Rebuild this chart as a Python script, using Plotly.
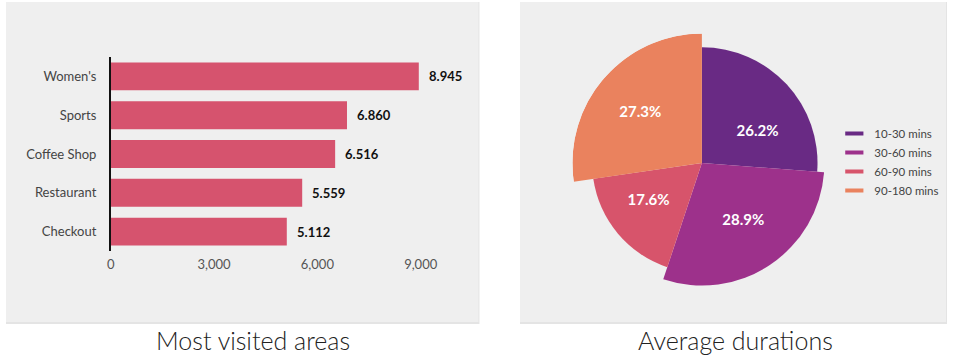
import plotly.graph_objects as go

# ---------------- data ----------------
areas = ["Women's", "Sports", "Coffee Shop", "Restaurant", "Checkout"]
visits = [8945, 6860, 6516, 5559, 5112]
x_ticks = [0, 3000, 6000, 9000]

durations = ["10-30 mins", "30-60 mins", "60-90 mins", "90-180 mins"]
duration_share = [26.2, 28.9, 17.6, 27.3]

# ---------------- style ----------------
W, H = 955, 364
BAR_COLOR = "#d6536e"
SLICE_COLORS = ["#692a84", "#9d318b", "#d7546b", "#ea825e"]
SLICE_RADII = [117, 124, 111, 131]        # decorative radii of the pie slices
LABEL_R_FRAC = [0.55, 0.58, 0.60, 0.61]    # label distance as fraction of slice radius
LABEL_NUDGE_DEG = [14, -2, 4, -2]          # label angular nudge from slice middle
FONT = "Lato"
PANEL = "#efefef"


def px_x(p):
    return p / W


def px_y(p):
    return 1 - p / H


fig = go.Figure()

# bar chart
fig.add_trace(go.Bar(
    x=visits, y=areas, orientation="h",
    marker=dict(color=BAR_COLOR, line=dict(width=0)),
    width=0.72, showlegend=False, hoverinfo="x+y",
    xaxis="x", yaxis="y",
))

for a, v in zip(areas, visits):
    fig.add_annotation(
        x=v, y=a, xref="x", yref="y", text=f"<b>{v/1000:.3f}</b>",
        showarrow=False, xanchor="left", xshift=8,
        font=dict(family=FONT, size=13, color="#111"),
    )

# pie (variable-radius sectors via barpolar)
thetas, widths, cum = [], [], 0.0
for s in duration_share:
    w = s * 3.6
    thetas.append(cum + w / 2)
    widths.append(w)
    cum += w

fig.add_trace(go.Barpolar(
    r=SLICE_RADII, theta=thetas, width=widths,
    marker=dict(color=SLICE_COLORS, line=dict(width=0)),
    showlegend=False, subplot="polar",
    hovertext=durations, hoverinfo="text",
))
fig.add_trace(go.Scatterpolar(
    r=[f * r for f, r in zip(LABEL_R_FRAC, SLICE_RADII)],
    theta=[t + d for t, d in zip(thetas, LABEL_NUDGE_DEG)], mode="text",
    text=[f"<b>{s:.1f}%</b>" for s in duration_share],
    textfont=dict(family=FONT, size=15, color="white"),
    showlegend=False, subplot="polar", hoverinfo="skip",
))
for name, c in zip(durations, SLICE_COLORS):
    fig.add_trace(go.Scatterpolar(
        r=[None], theta=[None], mode="markers", name=name,
        marker=dict(symbol="line-ew-open", size=13, color=c, line=dict(width=4, color=c)),
        subplot="polar", showlegend=True,
    ))

# panels
shapes = [
    dict(type="rect", xref="paper", yref="paper", x0=px_x(2), x1=px_x(481), y0=px_y(324), y1=px_y(2),
         fillcolor="#e4e4e4", line=dict(width=0), layer="below"),
    dict(type="rect", xref="paper", yref="paper", x0=px_x(2), x1=px_x(480), y0=px_y(322), y1=px_y(2),
         fillcolor=PANEL, line=dict(width=0), layer="below"),
    dict(type="rect", xref="paper", yref="paper", x0=px_x(522), x1=px_x(954), y0=px_y(324), y1=px_y(2),
         fillcolor="#e4e4e4", line=dict(width=0), layer="below"),
    dict(type="rect", xref="paper", yref="paper", x0=px_x(522), x1=px_x(953), y0=px_y(322), y1=px_y(2),
         fillcolor=PANEL, line=dict(width=0), layer="below"),
]

annotations = list(fig.layout.annotations) + [
    dict(x=px_x(252), y=px_y(340), xref="paper", yref="paper", text="Most visited areas",
         xanchor="center", yanchor="middle",
         showarrow=False, font=dict(family=FONT, size=25, color="#222", weight=300)),
    dict(x=px_x(740), y=px_y(340), xref="paper", yref="paper", text="Average durations",
         xanchor="center", yanchor="middle",
         showarrow=False, font=dict(family=FONT, size=25, color="#222", weight=300)),
]

cx, cy, R = 706, 163, 131
fig.update_layout(
    width=W, height=H,
    margin=dict(l=0, r=0, t=0, b=0),
    paper_bgcolor="white", plot_bgcolor="rgba(0,0,0,0)",
    font=dict(family=FONT),
    xaxis=dict(domain=[px_x(108), px_x(432)], range=[0, 9300], tickvals=x_ticks,
               tickformat=",", showgrid=False, zeroline=False, showline=False,
               tickfont=dict(family=FONT, size=13, color="#555"), ticklabelstandoff=4,
               fixedrange=True),
    yaxis=dict(domain=[px_y(251), px_y(57)], autorange="reversed", showgrid=False,
               zeroline=False, showline=True, linecolor="#111", linewidth=1.5,
               ticks="outside", ticklen=10, tickcolor="rgba(0,0,0,0)",
               tickfont=dict(family=FONT, size=13, color="#444"), fixedrange=True),
    polar=dict(
        domain=dict(x=[px_x(cx - R), px_x(cx + R)], y=[px_y(cy + R), px_y(cy - R)]),
        bgcolor="rgba(0,0,0,0)", bargap=0, hole=0,
        radialaxis=dict(visible=False, range=[0, R]),
        angularaxis=dict(visible=False, rotation=90, direction="clockwise"),
    ),
    legend=dict(x=px_x(840), y=px_y(162), xanchor="left", yanchor="middle",
                bgcolor="rgba(0,0,0,0)", font=dict(family=FONT, size=11.5, color="#444"),
                itemwidth=30, tracegroupgap=0),
    shapes=shapes, annotations=annotations,
)

fig.write_html(
    "out.html",
    config={"displayModeBar": False},
    post_script="document.body.style.margin='0';document.body.style.overflow='hidden';",
)
